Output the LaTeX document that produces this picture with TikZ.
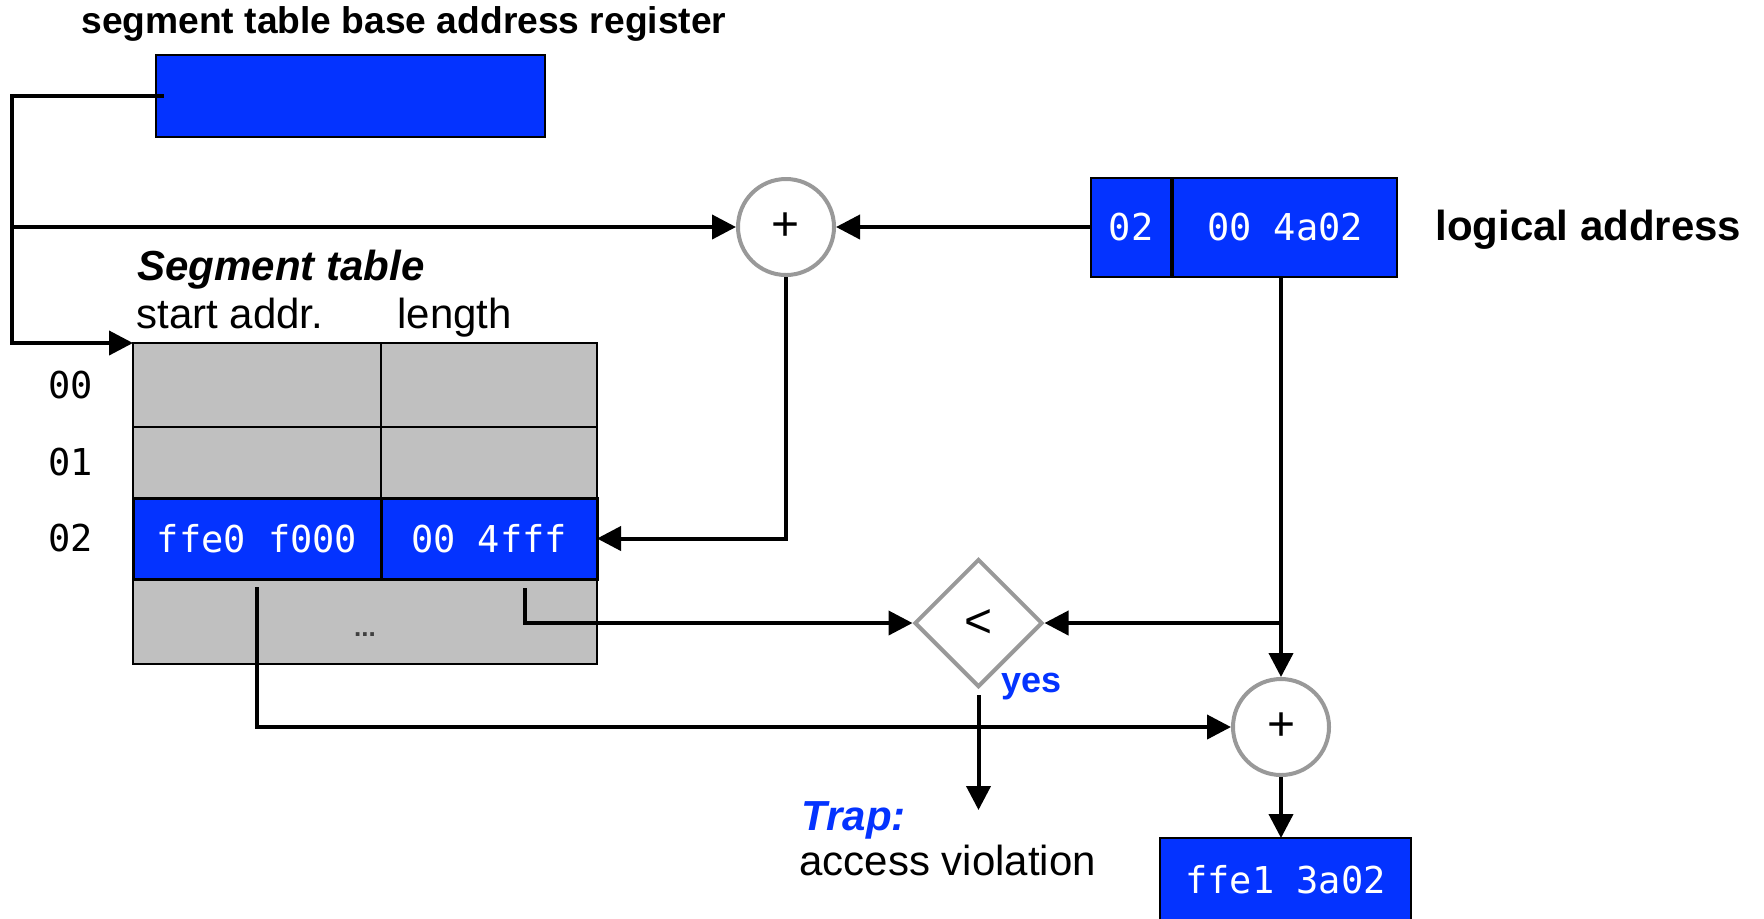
\documentclass[tikz,border=0pt]{standalone}
\usepackage{fontspec}
\setmainfont{Liberation Sans}
\newfontfamily\hexfont{DejaVu Sans Mono}
\usetikzlibrary{arrows.meta, positioning, shapes.geometric}
\definecolor{regblue}{HTML}{0433FF}
\definecolor{cellgray}{HTML}{C0C0C0}
\definecolor{opgray}{HTML}{999999}

\begin{document}
\begin{tikzpicture}[
  x=0.5pt, y=-0.5pt,
  wire/.style={line width=2pt},
  arrow/.style={wire, -{Triangle[length=12pt, width=12pt]}},
  hexbox/.style={
    draw, fill=regblue, text=white, line width=1pt,
    inner sep=0pt, outer sep=0pt,
    font=\hexfont\fontsize{18.5}{22}\selectfont
  },
  cell/.style={draw, fill=cellgray, line width=1pt, inner sep=0pt, outer sep=0pt},
  adder/.style={
    circle, draw=opgray, line width=2pt, minimum size=48pt,
    inner sep=0pt, font=\fontsize{24}{28}\selectfont
  },
  cmp/.style={
    diamond, draw=opgray, line width=2pt, minimum width=64pt,
    minimum height=64pt, inner sep=0pt, font=\fontsize{24}{28}\selectfont
  },
  txt/.style={inner sep=0pt, font=\fontsize{21}{25}\selectfont},
  bigbold/.style={txt, font=\bfseries\fontsize{21}{25}\selectfont}
]
\useasboundingbox (0,0) rectangle (1764,918);

% Base register
\node[txt, font=\bfseries\fontsize{18.6}{22}\selectfont, anchor=base west]
  (regtitle) at (81,33) {segment table base address register};
\node[hexbox, minimum width=194.5pt, minimum height=41pt] (reg) at (350,96) {};

% Logical address and first adder
\node[adder] (sum1) at (786,227) {+};
\node[hexbox, minimum width=40pt, minimum height=49.5pt] (lseg) at (1131,227) {02};
\node[hexbox, minimum width=112pt, minimum height=49.5pt, right=1pt of lseg] (loff) {00 4a02};
\node[bigbold, anchor=base west] (lalabel) at (1435,240) {logical address};

% Segment table
\node[bigbold, font=\bfseries\itshape\fontsize{21}{25}\selectfont, anchor=base west]
  (segtitle) at (137,280) {Segment table};
\node[txt, anchor=base west] (hstart) at (136,328) {start addr.};
\node[txt, anchor=base west] (hlen) at (397,328) {length};

\node[cell, minimum width=124pt, minimum height=42pt] (c00a) at (257,385) {};
\node[cell, minimum width=108pt, minimum height=42pt, right=0pt of c00a] (c00b) {};
\node[cell, minimum width=124pt, minimum height=35.5pt, below=0pt of c00a] (c01a) {};
\node[cell, minimum width=108pt, minimum height=35.5pt, right=0pt of c01a] (c01b) {};
\node[cell, minimum width=232pt, minimum height=42.5pt, anchor=north west,
  text=black!75, font=\bfseries\fontsize{13}{15}\selectfont, text height=15pt, text depth=0pt]
  (crest) at (133,579) {...};
\node[hexbox, line width=1.5pt, minimum width=124pt, minimum height=40.5pt,
  below=0pt of c01a] (c02a) {ffe0 f000};
\node[hexbox, line width=1.5pt, minimum width=108pt, minimum height=40.5pt,
  right=0pt of c02a] (c02b) {00 4fff};

\node[hexbox, fill=none, draw=none, text=black, left=20pt of c00a] (idx00) {00};
\node[hexbox, fill=none, draw=none, text=black, left=20pt of c01a] (idx01) {01};
\node[hexbox, fill=none, draw=none, text=black, left=20pt of c02a] (idx02) {02};

% Limit check, second adder, result
\node[cmp] (dia) at (978.5,623) {<};
\node[txt, font=\bfseries\fontsize{18}{22}\selectfont, text=regblue, anchor=west]
  (yes) at (1001,687) {yes};
\node[adder] (sum2) at (1281,727) {+};
\node[hexbox, minimum width=125.5pt, minimum height=42pt] (phys) at (1285.5,880) {ffe1 3a02};

\node[bigbold, font=\bfseries\itshape\fontsize{21}{25}\selectfont, text=regblue,
  anchor=base west] (trap) at (801,830) {Trap:};
\node[txt, anchor=base west] (trapwhy) at (799,875) {access violation};

% Connections
\coordinate (rail) at (12,96);
\coordinate (trapend) at (978.5,810);

\draw[arrow] ([xshift=4pt]reg.west) -- (rail) |- (c00a.north west);
\draw[arrow] (rail |- sum1) -- (sum1);
\draw[arrow] (lseg) -- (sum1);
\draw[arrow] (sum1) |- (c02b.east);
\draw[arrow] ([xshift=17.75pt, yshift=-4.5pt]c02b.south) |- (dia);
\draw[arrow] (sum2 |- loff.south) -- (sum2);
\draw[arrow] (sum2 |- dia) -- (dia);
\draw[arrow] ([yshift=-4pt]c02a.south) |- (sum2);
\draw[arrow] ([yshift=-3pt]dia.south) -- (trapend);
\draw[arrow] (sum2) -- (sum2 |- phys.north);

\end{tikzpicture}
\end{document}
